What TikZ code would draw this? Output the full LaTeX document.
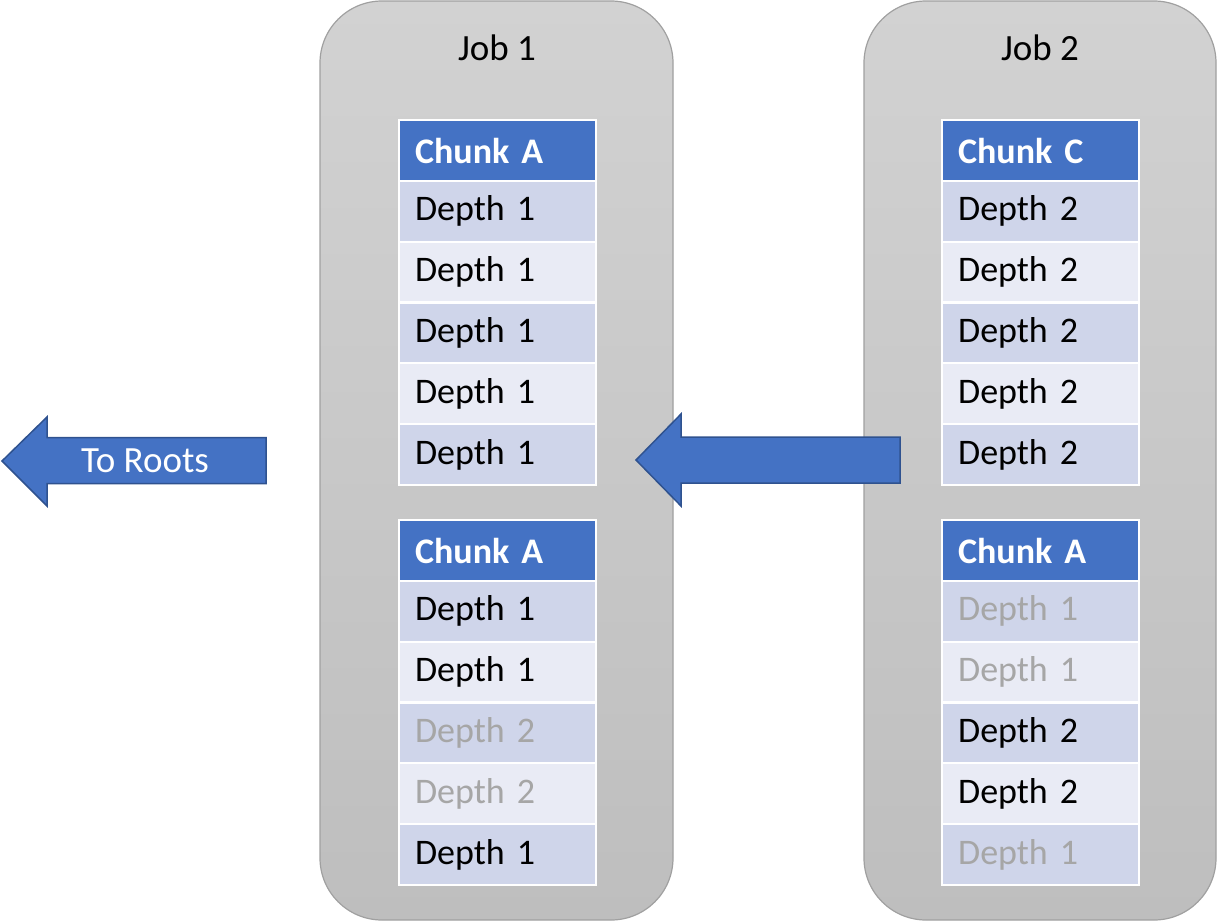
\documentclass[tikz,border=0pt]{standalone}
\usepackage{fontspec}
\setmainfont{Carlito}
\definecolor{hdr}{HTML}{4472C4}
\definecolor{rowA}{HTML}{CFD5EA}
\definecolor{rowB}{HTML}{E9EBF5}
\definecolor{fade}{HTML}{A6A6A6}
\definecolor{jobtop}{HTML}{D2D2D2}
\definecolor{jobbot}{HTML}{BEBEBE}
\definecolor{jobline}{HTML}{A0A0A0}
\definecolor{arrline}{HTML}{2F528F}
\tikzset{
  jobbox/.style={draw=jobline, line width=1.2pt, rounded corners=62pt, top color=jobtop, bottom color=jobbot},
  cellbox/.style={draw=white, line width=2.2pt, anchor=north west, minimum width=197pt, minimum height=60.8pt, text width=165pt, inner xsep=16pt, inner ysep=0pt, align=left, font=\fontsize{36}{40}\selectfont},
  hdrcell/.style={cellbox, fill=hdr, text=white, font=\fontsize{36}{40}\selectfont\bfseries},
  acell/.style={cellbox, fill=rowA},
  bcell/.style={cellbox, fill=rowB},
  bigarrow/.style={fill=hdr, draw=arrline, line width=1.5pt, line join=miter},
  joblabel/.style={font=\fontsize{37}{40}\selectfont}
}
\begin{document}
\begin{tikzpicture}[x=1pt,y=-1pt]
\useasboundingbox (0,0) rectangle (1218,921);
% job boxes
\path[jobbox] (320,1) rectangle (673,920);
\path[jobbox] (864,1) rectangle (1216,920);
\node[joblabel] (job1) at (497,48) {Job 1};
\node[joblabel] (job2) at (1040,48) {Job 2};
% Job 1, table 1
\node[hdrcell] (j1a0) at (398,119) {Chunk A};
\node[acell] (j1a1) at (398,179.8) {Depth 1};
\node[bcell] (j1a2) at (398,240.6) {Depth 1};
\node[acell] (j1a3) at (398,301.4) {Depth 1};
\node[bcell] (j1a4) at (398,362.2) {Depth 1};
\node[acell] (j1a5) at (398,423.0) {Depth 1};
% Job 1, table 2
\node[hdrcell] (j1b0) at (398,519) {Chunk A};
\node[acell] (j1b1) at (398,579.8) {Depth 1};
\node[bcell] (j1b2) at (398,640.6) {Depth 1};
\node[acell, text=fade] (j1b3) at (398,701.4) {Depth 2};
\node[bcell, text=fade] (j1b4) at (398,762.2) {Depth 2};
\node[acell] (j1b5) at (398,823.0) {Depth 1};
% Job 2, table 1
\node[hdrcell] (j2a0) at (941,119) {Chunk C};
\node[acell] (j2a1) at (941,179.8) {Depth 2};
\node[bcell] (j2a2) at (941,240.6) {Depth 2};
\node[acell] (j2a3) at (941,301.4) {Depth 2};
\node[bcell] (j2a4) at (941,362.2) {Depth 2};
\node[acell] (j2a5) at (941,423.0) {Depth 2};
% Job 2, table 2
\node[hdrcell] (j2b0) at (941,519) {Chunk A};
\node[acell, text=fade] (j2b1) at (941,579.8) {Depth 1};
\node[bcell, text=fade] (j2b2) at (941,640.6) {Depth 1};
\node[acell] (j2b3) at (941,701.4) {Depth 2};
\node[bcell] (j2b4) at (941,762.2) {Depth 2};
\node[acell, text=fade] (j2b5) at (941,823.0) {Depth 1};
% arrows
\path[bigarrow] (2,461) -- (47,417) -- (47,437.5) -- (266,437.5) -- (266,483.5) -- (47,483.5) -- (47,506) -- cycle;
\node[text=white, font=\fontsize{37}{40}\selectfont] (roots) at (145,461) {To Roots};
\path[bigarrow] (636,460) -- (681,414) -- (681,437) -- (900,437) -- (900,483) -- (681,483) -- (681,506) -- cycle;
\end{tikzpicture}
\end{document}
